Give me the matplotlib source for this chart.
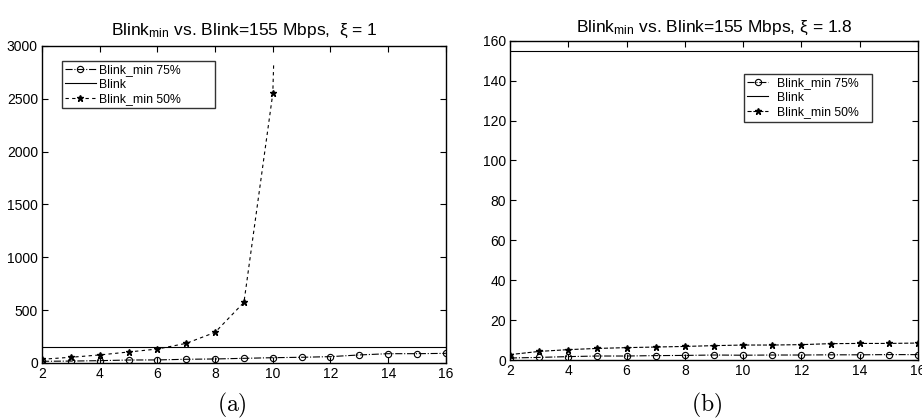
import matplotlib
matplotlib.use("Agg")
import matplotlib.pyplot as plt

plt.rcParams['font.family'] = ['Liberation Sans', 'DejaVu Sans']
plt.rcParams['mathtext.fontset'] = 'custom'
plt.rcParams['mathtext.rm'] = 'Liberation Sans'
plt.rcParams['mathtext.it'] = 'Liberation Sans'

# ---- data: panel (a), xi = 1 ----
x_a75 = [2, 3, 4, 5, 6, 7, 8, 9, 10, 11, 12, 13, 14, 15, 16]
y_a75 = [16, 18, 22, 28, 29, 35, 38, 44, 50, 54, 60, 76, 88, 88, 91]
x_a50 = [2, 3, 4, 5, 6, 7, 8, 9, 10, 10.03]
y_a50 = [35, 54, 76, 104, 132, 186, 290, 574, 2551, 2835]

# ---- data: panel (b), xi = 1.8 ----
x_b = [2, 3, 4, 5, 6, 7, 8, 9, 10, 11, 12, 13, 14, 15, 16]
y_b75 = [1.0, 1.3, 1.7, 2.0, 2.0, 2.2, 2.3, 2.5, 2.4, 2.5, 2.5, 2.6, 2.6, 2.7, 2.7]
y_b50 = [2.7, 4.3, 5.2, 5.8, 6.2, 6.5, 6.8, 7.2, 7.5, 7.5, 7.7, 8.2, 8.3, 8.3, 8.5]

blink = 155
xticks = [2, 4, 6, 8, 10, 12, 14, 16]
yticks_a = [0, 500, 1000, 1500, 2000, 2500, 3000]
yticks_b = [0, 20, 40, 60, 80, 100, 120, 140, 160]

fig = plt.figure(figsize=(9.22, 4.19), dpi=100)
axA = fig.add_axes([0.0456, 0.1337, 0.438, 0.7566])
axB = fig.add_axes([0.5531, 0.1408, 0.4425, 0.762])

def style(ax):
    ax.tick_params(direction='in', top=True, right=True, labelsize=10,
                   length=4, width=0.8, pad=3)
    for s in ax.spines.values():
        s.set_linewidth(1.0)

# panel (a)
axA.plot(x_a75, y_a75, linestyle='-.', color='black', lw=0.8, marker='o',
         markersize=4.5, markerfacecolor='none', markeredgewidth=0.8,
         label='Blink_min 75%')
axA.plot([2, 16], [blink, blink], linestyle='-', color='black', lw=0.8, label='Blink')
axA.plot(x_a50, y_a50, linestyle=(0, (3, 3)), color='black', lw=0.8, marker='*',
         markersize=5, markevery=list(range(len(x_a50) - 1)), label='Blink_min 50%')
axA.set_xlim(2, 16)
axA.set_ylim(0, 3000)
axA.set_xticks(xticks)
axA.set_yticks(yticks_a)
style(axA)
axA.set_title(r'Blink$_{\mathrm{min}}$ vs. Blink=155 Mbps,  $\xi$ = 1',
              fontsize=12.5, pad=8)
leg = axA.legend(loc='upper left', bbox_to_anchor=(0.0495, 0.5, 0.379, 0.453),
                 mode='expand', fontsize=8.8,
                 frameon=True, fancybox=False, edgecolor='black',
                 handlelength=2.5, borderpad=0.25, labelspacing=0.22,
                 handletextpad=0.3, borderaxespad=0)
leg.get_frame().set_linewidth(1.0)

# panel (b)
axB.plot(x_b, y_b75, linestyle='-.', color='black', lw=0.8, marker='o',
         markersize=4.5, markerfacecolor='none', markeredgewidth=0.8,
         label='Blink_min 75%')
axB.plot([2, 16], [blink, blink], linestyle='-', color='black', lw=0.8, label='Blink')
axB.plot(x_b, y_b50, linestyle='--', color='black', lw=0.8, marker='*',
         markersize=5, label='Blink_min 50%')
axB.set_xlim(2, 16)
axB.set_ylim(0, 160)
axB.set_xticks(xticks)
axB.set_yticks(yticks_b)
style(axB)
axB.set_title(r'Blink$_{\mathrm{min}}$ vs. Blink=155 Mbps, $\xi$ = 1.8',
              fontsize=12.5, pad=6)
leg = axB.legend(loc='upper left', bbox_to_anchor=(0.5735, 0.4, 0.314, 0.4957),
                 mode='expand', fontsize=8.8,
                 frameon=True, fancybox=False, edgecolor='black',
                 handlelength=1.75, borderpad=0.25, labelspacing=0.22,
                 handletextpad=0.7, borderaxespad=0)
leg.get_frame().set_linewidth(1.0)

fig.text(232 / 922, 1 - 405 / 419, r'$\mathrm{(a)}$', ha='center', va='center',
         fontsize=17, family='DejaVu Serif', math_fontfamily='cm')
fig.text(707 / 922, 1 - 405 / 419, r'$\mathrm{(b)}$', ha='center', va='center',
         fontsize=17, family='DejaVu Serif', math_fontfamily='cm')

fig.savefig('out.png', dpi=100)
